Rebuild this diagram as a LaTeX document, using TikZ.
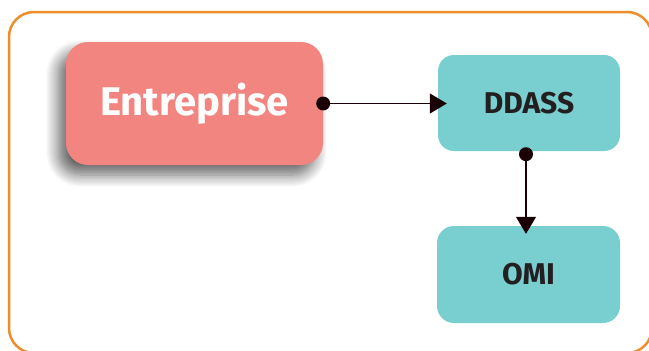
\documentclass[tikz,border=0pt]{standalone}
\usepackage{fontspec}
\setmainfont{Fira Sans}
\usetikzlibrary{arrows.meta,shadows.blur}
\definecolor{frameorange}{HTML}{EE8E2A}
\definecolor{salmon}{HTML}{F38581}
\definecolor{teal}{HTML}{79CED0}
\definecolor{ink}{HTML}{231F20}
\definecolor{dotink}{HTML}{1A0005}
\tikzset{
  mainbox/.style={fill=salmon, rounded corners=22pt, minimum width=257pt, minimum height=123pt,
    text=white, font=\fontsize{40}{46}\selectfont\bfseries, inner sep=0pt,
    blur shadow={shadow xshift=-8pt, shadow yshift=-10pt, shadow blur radius=12pt,
      shadow blur steps=12, shadow opacity=60, shadow blur extra rounding=6pt}},
  tealbox/.style={fill=teal, rounded corners=16pt, minimum width=182pt, minimum height=96pt,
    text=ink, font=\fontsize{30}{34}\selectfont\bfseries, inner sep=0pt},
  link/.style={draw=dotink, line width=1.3pt, -{Triangle[length=17pt,width=20pt]}},
  enddot/.style={fill=dotink}
}
\begin{document}
\begin{tikzpicture}[x=1pt,y=-1pt]
  \clip (0,0) rectangle (649,351);
  % outer frame, running past the right and bottom edges
  \draw[frameorange, line width=2.5pt, rounded corners=25pt] (9,12) rectangle (652,353);
  % boxes
  \node[mainbox] (E) at (194.5,103.5) {Entreprise};
  \node[tealbox] (D) at (529,103) {DDASS};
  \node[tealbox, minimum width=183pt, minimum height=97pt, rounded corners=17pt] (O) at (528.5,274.5) {OMI};
  % connectors
  \coordinate (s1) at (E.east);
  \coordinate (t1) at (s1 -| D.west);
  \coordinate (s2) at ([xshift=-3pt,yshift=-3pt]D.south);
  \coordinate (t2) at (s2 |- O.north);
  \draw[link, shorten >=-9pt] (s1) -- (t1);
  \draw[link, shorten >=-8pt] (s2) -- (t2);
  \fill[enddot] (s1) circle (7pt);
  \fill[enddot] (s2) circle (7pt);
\end{tikzpicture}
\end{document}
